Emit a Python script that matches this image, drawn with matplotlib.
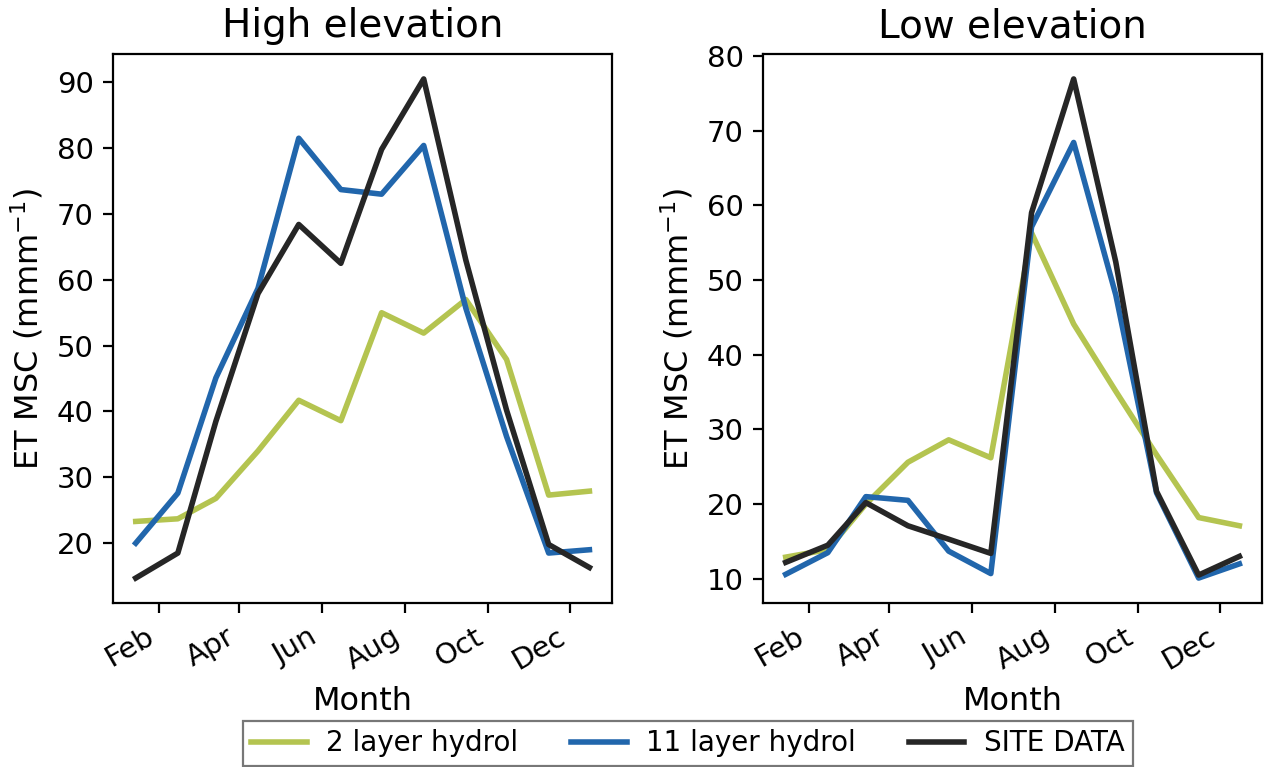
import numpy as np
import matplotlib
matplotlib.use("Agg")
import matplotlib.pyplot as plt
import matplotlib.dates as mdates
from matplotlib.ticker import MultipleLocator

# mid-month dates for the monthly climatology
months = np.array([np.datetime64(f"2001-{m:02d}-15") for m in range(1, 13)])

# High elevation
high_2layer = [23.3, 23.7, 26.8, 34.0, 41.7, 38.6, 55.0, 51.9, 57.0, 47.9, 27.3, 27.9]
high_11layer = [20.0, 27.6, 45.1, 58.7, 81.5, 73.7, 73.0, 80.4, 55.7, 36.2, 18.5, 19.0]
high_site = [14.7, 18.5, 38.5, 57.9, 68.4, 62.5, 79.8, 90.5, 63.0, 40.2, 19.8, 16.3]

# Low elevation
low_2layer = [12.9, 13.9, 20.0, 25.6, 28.6, 26.2, 56.3, 44.1, 35.1, 26.6, 18.2, 17.1]
low_11layer = [10.6, 13.5, 21.0, 20.5, 13.7, 10.7, 57.1, 68.4, 48.0, 21.5, 10.1, 12.0]
low_site = [12.2, 14.5, 20.2, 17.1, 15.3, 13.4, 59.0, 76.9, 52.4, 21.7, 10.5, 13.0]

labels = ["2 layer hydrol", "11 layer hydrol", "SITE DATA"]
colors = ["#b4c450", "#2166ac", "#262626"]

fig = plt.figure(figsize=(6.33, 3.835), dpi=200)
ax1 = fig.add_axes([0.0893, 0.2138, 0.3942, 0.7158])
ax2 = fig.add_axes([0.6027, 0.2138, 0.3942, 0.7158])

panels = [
    (ax1, "High elevation", [high_2layer, high_11layer, high_site]),
    (ax2, "Low elevation", [low_2layer, low_11layer, low_site]),
]

for ax, title, series in panels:
    for vals, lab, c in zip(series, labels, colors):
        ax.plot(months, vals, color=c, lw=2, label=lab)
    ax.set_title(title, fontsize=14)
    ax.set_xlabel("Month", fontsize=11.5)
    ax.set_ylabel("ET MSC (mmm$^{-1}$)", fontsize=11.5)
    ax.yaxis.set_major_locator(MultipleLocator(10))
    ax.xaxis.set_major_locator(mdates.MonthLocator(bymonth=[2, 4, 6, 8, 10, 12]))
    ax.xaxis.set_major_formatter(mdates.DateFormatter("%b"))
    ax.tick_params(labelsize=10.5, width=0.8)
    for lbl in ax.get_xticklabels():
        lbl.set_rotation(30)
        lbl.set_ha("right")
    for sp in ax.spines.values():
        sp.set_linewidth(0.8)

handles, labs = ax1.get_legend_handles_labels()
leg = fig.legend(handles, labs, loc="lower center", bbox_to_anchor=(0.5435, 0.0),
                 ncol=3, fontsize=10, fancybox=False, edgecolor="#555555",
                 columnspacing=1.9, handletextpad=0.7,
                 borderaxespad=0.05, borderpad=0.3)
leg.get_frame().set_linewidth(0.8)

fig.savefig("out.png", dpi=200)
